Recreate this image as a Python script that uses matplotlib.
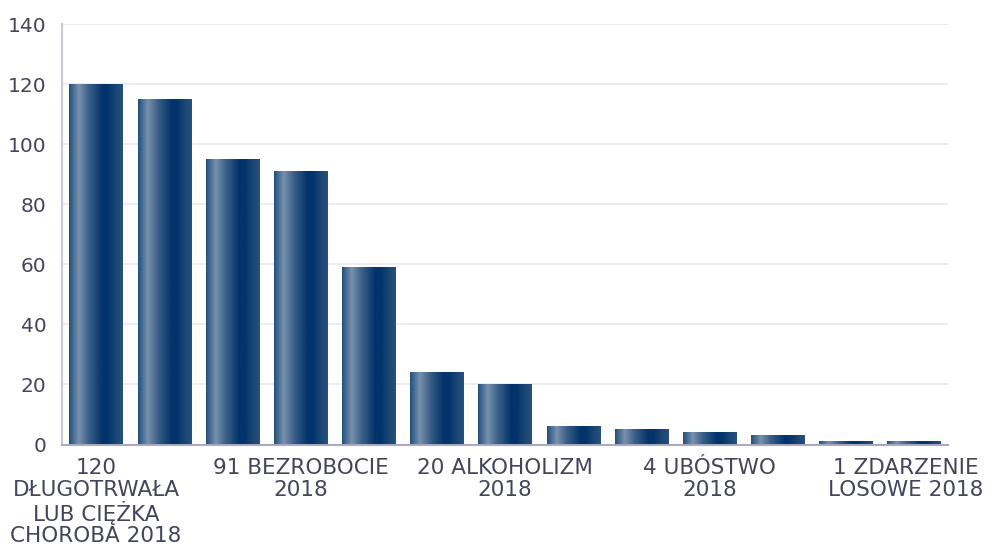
import numpy as np
import matplotlib.pyplot as plt
import matplotlib.transforms as mtransforms
from matplotlib.colors import LinearSegmentedColormap

plt.rcParams['font.family'] = ['DejaVu Sans']

# dane: liczba rodzin wg przyczyny pomocy, 2018
values = [120, 115, 95, 91, 59, 24, 20, 6, 5, 4, 3, 1, 1]
label_pos = [0, 3, 6, 9, 12]
labels = ['120\nDŁUGOTRWAŁA\nLUB CIĘŻKA\nCHOROBA 2018',
          '91 BEZROBOCIE\n2018',
          '20 ALKOHOLIZM\n2018',
          '4 UBÓSTWO\n2018',
          '1 ZDARZENIE\nLOSOWE 2018']

text_col = '#44455a'
grad = LinearSegmentedColormap.from_list('bar', [
    (0.0, '#22507e'), (0.18, '#7892ad'), (0.36, '#3c6189'),
    (0.62, '#03336a'), (0.72, '#02336a'), (0.88, '#1c4774'), (1.0, '#26517e')])

fig = plt.figure(figsize=(9.91, 5.45), dpi=100)
ax = fig.add_axes([62/991, 100.5/545, 886/991, 420.5/545])

x = np.arange(len(values))
w = 0.78
bars = ax.bar(x, values, width=w, color='none', zorder=3)
g = np.linspace(0, 1, 200).reshape(1, -1)
for b in bars:
    x0, y0 = b.get_x(), b.get_y()
    im = ax.imshow(g, cmap=grad, aspect='auto', zorder=3,
                   extent=[x0, x0 + b.get_width(), y0, y0 + b.get_height()])
    im.set_clip_path(b)

ax.set_xlim(-0.5, len(values) - 0.5)
ax.set_ylim(0, 140)
ax.set_yticks(range(0, 141, 20))
ax.yaxis.grid(True, color='#e8e7f0', linewidth=1.1, zorder=0)
ax.set_axisbelow(True)

ax.set_xticks(label_pos)
ax.set_xticklabels(labels, linespacing=1.07)
ax.tick_params(axis='x', length=0, pad=10, labelsize=15.5, colors=text_col)
ax.tick_params(axis='y', length=0, pad=11, labelsize=14.5, colors=text_col)

for s in ['top', 'right']:
    ax.spines[s].set_visible(False)
ax.spines['left'].set_color('#c9c9da')
ax.spines['left'].set_linewidth(1.5)
ax.spines['bottom'].set_color('#a9a9c2')
ax.spines['bottom'].set_linewidth(1.5)

# ostatnia etykieta przesunięta w lewo, żeby zmieściła się w obrazku
last = ax.get_xticklabels()[-1]
last.set_transform(last.get_transform() + mtransforms.ScaledTranslation(-8/100, 0, fig.dpi_scale_trans))

fig.savefig('out.png', dpi=100)
